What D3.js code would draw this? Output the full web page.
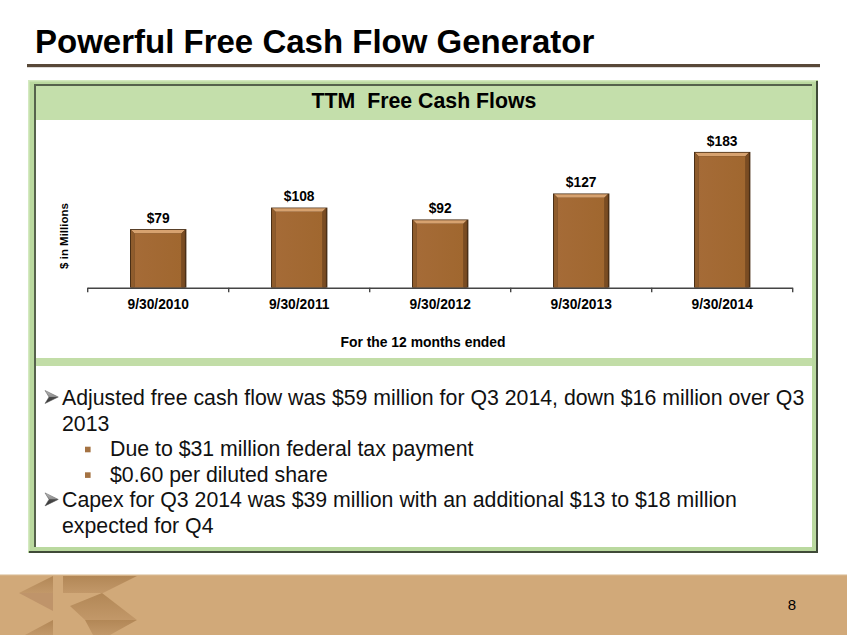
<!DOCTYPE html>
<html>
<head>
<meta charset="utf-8">
<script src="https://cdn.jsdelivr.net/npm/d3@7/dist/d3.min.js"></script>
<style>
  html, body { margin: 0; padding: 0; background: #fff; }
  svg { display: block; }
  text { font-family: "Liberation Sans", Arial, Helvetica, sans-serif; }
</style>
</head>
<body>
<script>
// ---- Data ----
const categories = ["9/30/2010", "9/30/2011", "9/30/2012", "9/30/2013", "9/30/2014"];
const values = [79, 108, 92, 127, 183];
const valueLabels = ["$79", "$108", "$92", "$127", "$183"];
const pageTitle = "Powerful Free Cash Flow Generator";
const chartTitle = "TTM  Free Cash Flows";
const yAxisTitle = "$ in Millions";
const xAxisTitle = "For the 12 months ended";
const bullets = [
  { level: 1, lines: ["Adjusted free cash flow was $59 million for Q3 2014, down $16 million over Q3", "2013"] },
  { level: 2, lines: ["Due to $31 million federal tax payment"] },
  { level: 2, lines: ["$0.60 per diluted share"] },
  { level: 1, lines: ["Capex for Q3 2014 was $39 million with an additional $13 to $18 million", "expected for Q4"] }
];
const pageNumber = "8";

const W = 847, H = 635;
const svg = d3.select("body").append("svg").attr("width", W).attr("height", H);
const defs = svg.append("defs");

// gradients
const g1 = defs.append("linearGradient").attr("id", "arrowGrad").attr("x1", 0).attr("y1", 0).attr("x2", 0).attr("y2", 1);
g1.append("stop").attr("offset", "0%").attr("stop-color", "#c0c0c0");
g1.append("stop").attr("offset", "50%").attr("stop-color", "#8a8a8a");
g1.append("stop").attr("offset", "51%").attr("stop-color", "#4a4a4a");
g1.append("stop").attr("offset", "100%").attr("stop-color", "#333");

const g2 = defs.append("linearGradient").attr("id", "barFace").attr("x1", 0).attr("y1", 0).attr("x2", 1).attr("y2", 0);
g2.append("stop").attr("offset", "0%").attr("stop-color", "#a56b37");
g2.append("stop").attr("offset", "100%").attr("stop-color", "#a0672f");

const g3 = defs.append("linearGradient").attr("id", "logoGrad").attr("x1", 0).attr("y1", 0).attr("x2", 0).attr("y2", 1);
g3.append("stop").attr("offset", "0%").attr("stop-color", "#b28756");
g3.append("stop").attr("offset", "100%").attr("stop-color", "#c29869");

// ---- Page title ----
svg.append("text").attr("x", 35).attr("y", 52.5)
  .attr("font-size", 33).attr("font-weight", "bold").attr("fill", "#000")
  .text(pageTitle);
svg.append("rect").attr("x", 27).attr("y", 64).attr("width", 793).attr("height", 3.2).attr("fill", "#584838");

// ---- Frame ----
const fx0 = 28, fy0 = 80, fx1 = 818, fy1 = 553;
svg.append("rect").attr("x", fx0).attr("y", fy0).attr("width", fx1 - fx0).attr("height", fy1 - fy0).attr("fill", "#bad99f");
svg.append("rect").attr("x", fx0).attr("y", fy0).attr("width", fx1 - fx0 - 2).attr("height", 1.5).attr("fill", "#d4eac0");
svg.append("rect").attr("x", fx0).attr("y", fy0).attr("width", 1.5).attr("height", fy1 - fy0 - 2).attr("fill", "#d4eac0");
svg.append("rect").attr("x", 34).attr("y", 84).attr("width", 778).attr("height", 2).attr("fill", "#55624c");
svg.append("rect").attr("x", 34).attr("y", 84).attr("width", 2).attr("height", 463).attr("fill", "#55624c");
svg.append("rect").attr("x", 816).attr("y", 81).attr("width", 2).attr("height", fy1 - 81).attr("fill", "#3f4a38");
svg.append("rect").attr("x", 29).attr("y", 551).attr("width", 789).attr("height", 2).attr("fill", "#3f4a38");

// header
svg.append("rect").attr("x", 36).attr("y", 86).attr("width", 776).attr("height", 34).attr("fill", "#c4dfab");
svg.append("text").attr("x", 424).attr("y", 108).attr("text-anchor", "middle")
  .attr("font-size", 21.3).attr("font-weight", "bold").attr("fill", "#000")
  .attr("xml:space", "preserve").style("white-space", "pre")
  .text(chartTitle);
svg.append("rect").attr("x", 36).attr("y", 120).attr("width", 776).attr("height", 238).attr("fill", "#fff");
svg.append("rect").attr("x", 36).attr("y", 358).attr("width", 776).attr("height", 8).attr("fill", "#c2dda7");
svg.append("rect").attr("x", 36).attr("y", 366).attr("width", 776).attr("height", 181).attr("fill", "#fff");

// ---- Chart ----
const x = d3.scaleBand().domain(categories).range([87.7, 792.7]).paddingInner(0.6).paddingOuter(0.3);
const y = d3.scaleLinear().domain([0, 200]).range([287.7, 139.3]);
const chart = svg.append("g");

const bw = x.bandwidth();
const bev = 3.5;
values.forEach((v, i) => {
  const x0 = x(categories[i]), x1 = x0 + bw, y0 = y(v), y1 = y(0);
  const g = chart.append("g");
  g.append("rect").attr("x", x0).attr("y", y0).attr("width", bw).attr("height", y1 - y0).attr("fill", "#4a2f16");
  const ix0 = x0 + 1, ix1 = x1 - 1.5, iy0 = y0 + 0.8, iy1 = y1;
  const pts = (a) => a.map(p => p.join(",")).join(" ");
  g.append("polygon").attr("points", pts([[ix0, iy0], [ix1, iy0], [ix1 - bev, iy0 + bev], [ix0 + bev, iy0 + bev]])).attr("fill", "#d7a26f");
  g.append("polygon").attr("points", pts([[ix0, iy0], [ix0 + bev, iy0 + bev], [ix0 + bev, iy1], [ix0, iy1]])).attr("fill", "#8f5c2c");
  g.append("polygon").attr("points", pts([[ix1, iy0], [ix1, iy1], [ix1 - bev, iy1], [ix1 - bev, iy0 + bev]])).attr("fill", "#7a4c22");
  g.append("rect").attr("x", ix0 + bev).attr("y", iy0 + bev).attr("width", ix1 - ix0 - 2 * bev).attr("height", iy1 - iy0 - bev).attr("fill", "url(#barFace)");
});

chart.selectAll("text.val").data(values).enter().append("text")
  .attr("class", "val")
  .attr("x", (d, i) => x(categories[i]) + bw / 2)
  .attr("y", d => y(d) - 6.3)
  .attr("text-anchor", "middle").attr("font-size", 13.8).attr("font-weight", "bold").attr("fill", "#000")
  .text((d, i) => valueLabels[i]);

const axisG = chart.append("g").attr("transform", `translate(0,${y(0)})`);
const xr = x.range();
axisG.append("line").attr("x1", xr[0]).attr("x2", xr[1]).attr("y1", 0.5).attr("y2", 0.5)
  .attr("stroke", "#444").attr("stroke-width", 1.6);
const bounds = categories.map(c => x(c) - (x.step() - bw) / 2).concat([xr[1]]);
axisG.selectAll("line.tk").data(bounds).enter().append("line").attr("class", "tk")
  .attr("x1", d => d).attr("x2", d => d).attr("y1", 0).attr("y2", 4.5)
  .attr("stroke", "#444").attr("stroke-width", 1.4);
axisG.selectAll("text.cat").data(categories).enter().append("text").attr("class", "cat")
  .attr("x", d => x(d) + bw / 2).attr("y", 21.6)
  .attr("text-anchor", "middle").attr("font-size", 13.8).attr("font-weight", "bold").attr("fill", "#000")
  .text(d => d);

svg.append("text").attr("x", 423).attr("y", 346.5).attr("text-anchor", "middle")
  .attr("font-size", 13.9).attr("font-weight", "bold").attr("fill", "#000").text(xAxisTitle);
svg.append("text").attr("transform", "translate(68,236) rotate(-90)").attr("text-anchor", "middle")
  .attr("font-size", 11.5).attr("font-weight", "bold").attr("fill", "#000").text(yAxisTitle);

// ---- Bullets ----
let baseY = 405;
const lh = 25.6;
const bg = svg.append("g");
bullets.forEach(b => {
  b.lines.forEach((ln, li) => {
    if (li === 0) {
      if (b.level === 1) {
        const cx = 45, cy = baseY - 8;
        bg.append("path")
          .attr("d", `M${cx},${cy - 6.5} L${cx + 13.3},${cy} L${cx},${cy + 6.5} L${cx + 4},${cy} Z`)
          .attr("fill", "url(#arrowGrad)").attr("stroke", "#555").attr("stroke-width", 0.5);
      } else {
        bg.append("rect").attr("x", 85).attr("y", baseY - 9.5).attr("width", 5.6).attr("height", 5.6).attr("fill", "#a47242");
      }
    }
    bg.append("text").attr("x", b.level === 1 ? 62 : 110).attr("y", baseY)
      .attr("font-size", 21.3).attr("fill", "#111").text(ln);
    baseY += lh;
  });
});

// ---- Footer ----
svg.append("rect").attr("x", 0).attr("y", 574).attr("width", W).attr("height", H - 574).attr("fill", "#d1a979");
svg.append("rect").attr("x", 0).attr("y", 574).attr("width", W).attr("height", 1.2).attr("fill", "#eadbc6");
const logo = svg.append("g").attr("fill", "url(#logoGrad)");
const lp = (a) => a.map(p => p.join(",")).join(" ");
logo.append("polygon").attr("points", lp([[19, 593], [53, 576], [53, 593]]));
logo.append("polygon").attr("points", lp([[63, 576], [137, 576], [103, 593], [63, 593]]));
logo.append("polygon").attr("points", lp([[70, 606], [102, 593], [137, 620], [85, 620]]));
logo.append("polygon").attr("points", lp([[85, 620], [137, 620], [110, 635], [93, 635]]));
logo.append("polygon").attr("points", lp([[19, 593], [53, 593], [53, 611]])).attr("fill", "#bf946a");
logo.append("polygon").attr("points", lp([[25, 635], [53, 620], [53, 635]]));
svg.append("text").attr("x", 792).attr("y", 609.5).attr("text-anchor", "middle")
  .attr("font-size", 15).attr("fill", "#000").text(pageNumber);
</script>
</body>
</html>
